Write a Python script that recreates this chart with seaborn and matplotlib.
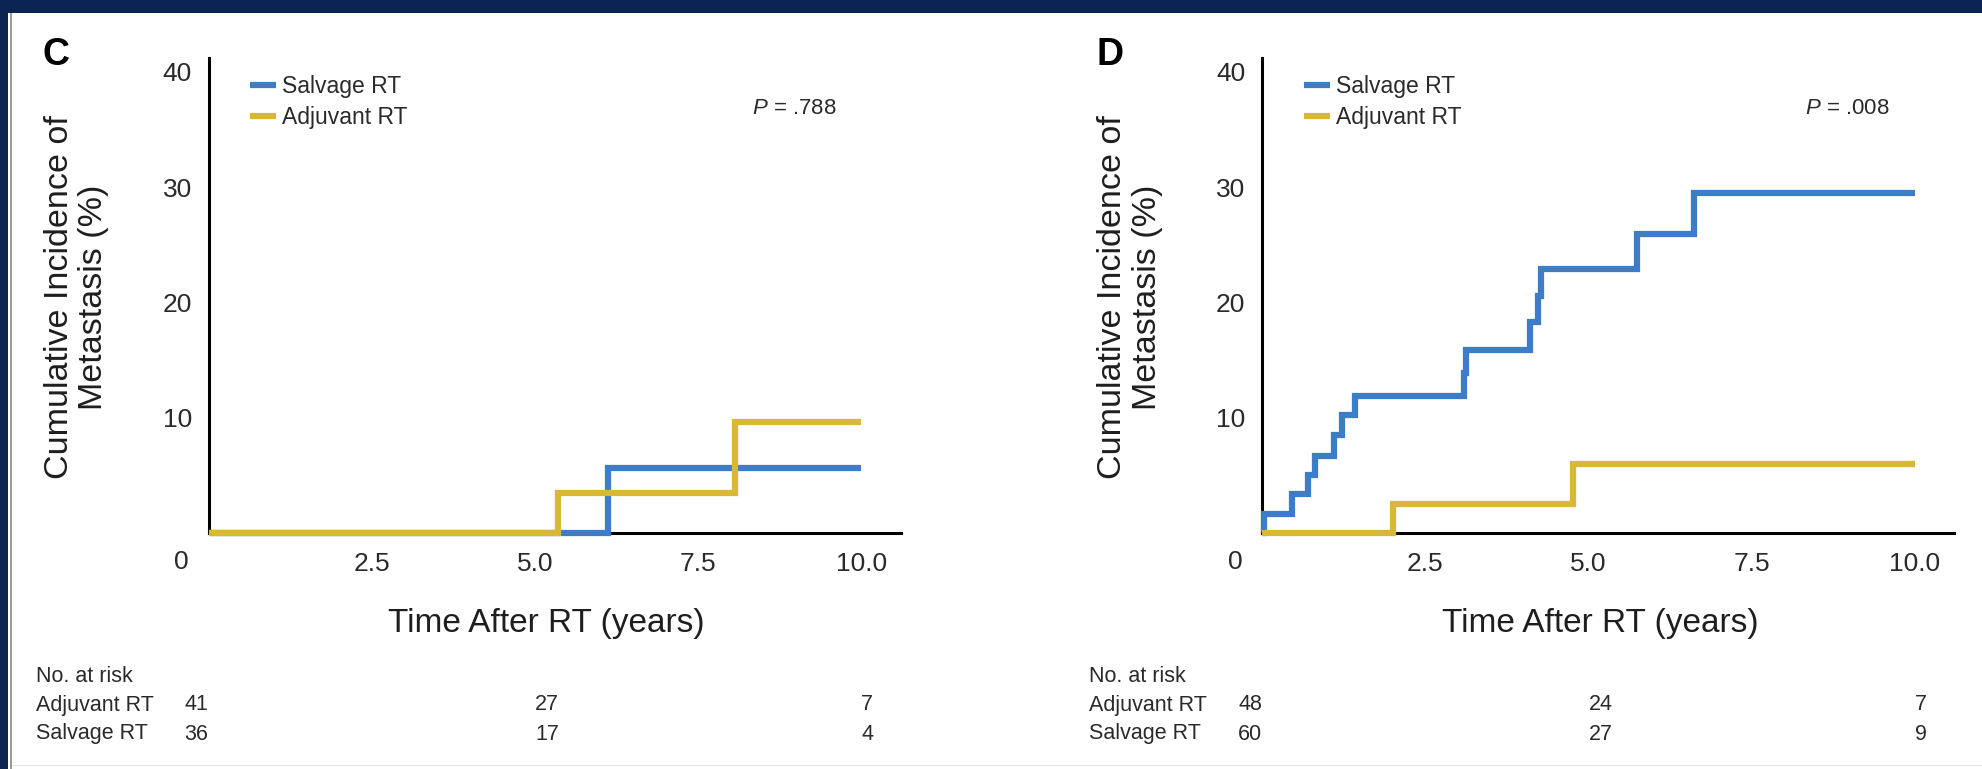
import numpy as np
import pandas as pd
import matplotlib
matplotlib.use("Agg")
import matplotlib.pyplot as plt
import seaborn as sns
from matplotlib.lines import Line2D
from matplotlib.patches import Rectangle

# ---------------- data ----------------
groups = ["Salvage RT", "Adjuvant RT"]

c_salvage_time = [0.0, 6.12, 10.0]
c_salvage_inc = [0.0, 5.6, 5.6]
c_adjuvant_time = [0.0, 5.35, 8.06, 10.0]
c_adjuvant_inc = [0.0, 3.5, 9.6, 9.6]

d_salvage_time = [0.0, 0.03, 0.46, 0.70, 0.81, 1.10, 1.22, 1.43, 3.10, 3.13,
                  4.11, 4.23, 4.27, 5.75, 6.62, 10.0]
d_salvage_inc = [0.0, 1.65, 3.4, 5.0, 6.7, 8.5, 10.2, 11.9, 13.9, 15.9,
                 18.3, 20.6, 22.9, 25.9, 29.5, 29.5]
d_adjuvant_time = [0.0, 2.01, 4.77, 10.0]
d_adjuvant_inc = [0.0, 2.5, 6.0, 6.0]

risk_times = [0, 5, 10]
risk_rows = ["Adjuvant RT", "Salvage RT"]
c_risk_adjuvant = [41, 27, 7]
c_risk_salvage = [36, 17, 4]
d_risk_adjuvant = [48, 24, 7]
d_risk_salvage = [60, 27, 9]

panel_letters = ["C", "D"]
p_values = [".788", ".008"]
x_ticks = [2.5, 5.0, 7.5, 10.0]
y_ticks = [10, 20, 30, 40]
x_label = "Time After RT (years)"
y_label = "Cumulative Incidence of\nMetastasis (%)"

colors = {"Salvage RT": "#3d7cc6", "Adjuvant RT": "#d8b835"}

# ---------------- style ----------------
sns.set_style("white")
plt.rcParams["font.family"] = ["Liberation Sans", "DejaVu Sans"]
plt.rcParams["mathtext.fontset"] = "custom"
plt.rcParams["mathtext.rm"] = "Liberation Sans"
plt.rcParams["mathtext.it"] = "Liberation Sans:italic"
TXT = "#2a2a2a"

W, H = 1982, 769
fig = plt.figure(figsize=(W / 100, H / 100), dpi=100)
fig.patch.set_facecolor("white")

# frame decorations
fig.add_artist(Rectangle((0, 1 - 13 / H), 1, 13 / H, transform=fig.transFigure,
                         facecolor="#0c2452", edgecolor="none", zorder=0))
fig.add_artist(Rectangle((0, 0), 8 / W, 1, transform=fig.transFigure,
                         facecolor="#0c2452", edgecolor="none", zorder=0))
fig.add_artist(Rectangle((10 / W, 0), 2 / W, 1 - 13 / H, transform=fig.transFigure,
                         facecolor="#9a9a9a", edgecolor="none", zorder=0))
fig.add_artist(Rectangle((12 / W, 3 / H), 1 - 12 / W, 1.5 / H, transform=fig.transFigure,
                         facecolor="#e4e4e4", edgecolor="none", zorder=0))

panels = [
    dict(left=208.5, st=c_salvage_time, sv=c_salvage_inc, at=c_adjuvant_time, av=c_adjuvant_inc,
         ra=c_risk_adjuvant, rs=c_risk_salvage),
    dict(left=1262.0, st=d_salvage_time, sv=d_salvage_inc, at=d_adjuvant_time, av=d_adjuvant_inc,
         ra=d_risk_adjuvant, rs=d_risk_salvage),
]

ax_w, ax_h, ax_bottom = 692.0, 475.0, 533.0
XMAX, YMAX = 10.6, 41.2

for i, p in enumerate(panels):
    ax = fig.add_axes([p["left"] / W, 1 - ax_bottom / H, ax_w / W, ax_h / H])
    df = pd.concat([
        pd.DataFrame({"time": p["st"], "inc": p["sv"], "group": groups[0]}),
        pd.DataFrame({"time": p["at"], "inc": p["av"], "group": groups[1]}),
    ], ignore_index=True)
    sns.lineplot(data=df, x="time", y="inc", hue="group", hue_order=groups,
                 palette=colors, drawstyle="steps-post", estimator=None, sort=False,
                 linewidth=4.5, ax=ax, legend=True)
    for ln in ax.get_lines():
        ln.set_clip_on(False)
        ln.set_zorder(3)
        ln.set_solid_capstyle("butt")
        ln.set_solid_joinstyle("miter")

    ax.set_xlim(0, XMAX)
    ax.set_ylim(0, YMAX)
    for s in ["top", "right"]:
        ax.spines[s].set_visible(False)
    for s in ["left", "bottom"]:
        ax.spines[s].set_linewidth(2.2)
        ax.spines[s].set_color("black")
    ax.set_xticks(x_ticks)
    ax.set_xticklabels([f"{t:.1f}" for t in x_ticks])
    ax.set_yticks(y_ticks)
    ax.set_yticklabels([str(t) for t in y_ticks])
    ax.tick_params(axis="both", direction="out", length=7, width=2, color="black",
                   labelsize=19, labelcolor=TXT)
    ax.tick_params(axis="x", pad=6.5)
    ax.tick_params(axis="y", pad=5)
    ax.set_xlabel("")
    ax.set_ylabel("")
    ax.annotate("0", xy=(0, 0), xytext=(-27, -29), textcoords="offset pixels",
                ha="center", va="center", fontsize=19, color=TXT)

    # legend
    handles = [Line2D([0], [0], color=colors[g], lw=4.5, solid_capstyle="butt") for g in groups]
    ax.legend(handles, groups, loc="upper left", bbox_to_anchor=(0.06, 0.964),
              frameon=False, fontsize=16.5, handlelength=1.15, handletextpad=0.25,
              labelspacing=0.35, borderpad=0, borderaxespad=0,
              labelcolor=TXT)

    # P value
    ax.text(0.785, (ax_bottom - 109) / ax_h, f"$P$ = {p_values[i]}", transform=ax.transAxes,
            ha="left", va="center", fontsize=16, color=TXT)

    # panel letter
    fig.text((p["left"] - 152) / W, 1 - 55 / H, panel_letters[i], ha="center", va="center",
             fontsize=27, fontweight="bold", color="black")

    # axis labels
    fig.text((p["left"] + 338) / W, 1 - 632 / H, x_label, ha="center", va="baseline",
             fontsize=24, color="#1e1e1e")
    fig.text((p["left"] - 132) / W, 1 - 297 / H, y_label, ha="center", va="center",
             rotation=90, fontsize=24.5, color="#1e1e1e", linespacing=1.15,
             multialignment="center")

    # number at risk table
    tx = (p["left"] - 173) / W
    fig.text(tx, 1 - 676 / H, "No. at risk", ha="left", va="center", fontsize=15.5, color=TXT)
    for r, (name, vals) in enumerate(zip(risk_rows, [p["ra"], p["rs"]])):
        yy = 1 - (705 + 29 * r) / H
        fig.text(tx, yy, name, ha="left", va="center", fontsize=15.5, color=TXT)
        for k, (t, v) in enumerate(zip(risk_times, vals)):
            xfig = (p["left"] + t * ax_w / XMAX) / W
            fig.text(xfig, yy, str(v), ha="right" if k == 0 else "left", va="center",
                     fontsize=15.5, color=TXT)

fig.savefig("out.png", dpi=100, facecolor="white")
